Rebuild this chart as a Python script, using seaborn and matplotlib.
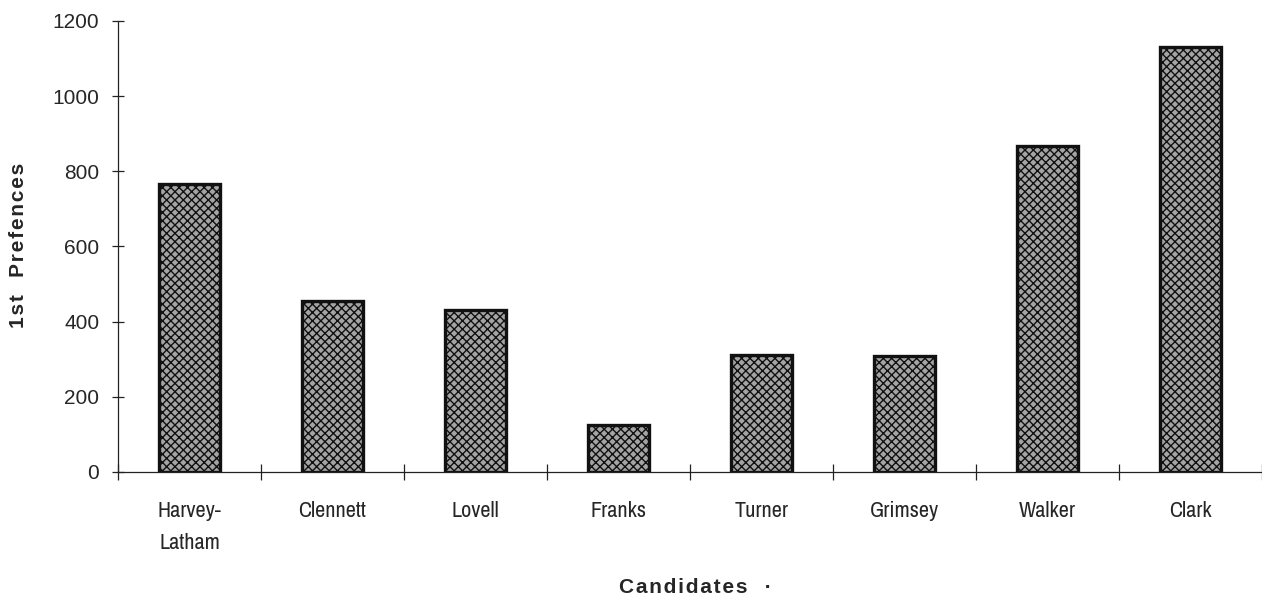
import seaborn as sns
import matplotlib.pyplot as plt
from matplotlib import font_manager as fm
import pandas as pd
import numpy as np

# Candidates and their first-preference votes
candidates = ["Harvey-\nLatham", "Clennett", "Lovell", "Franks",
              "Turner", "Grimsey", "Walker", "Clark"]
votes = [765, 455, 430, 125, 312, 307, 867, 1131]
y_ticks = [0, 200, 400, 600, 800, 1000, 1200]

df = pd.DataFrame({"candidate": candidates, "votes": votes})

# pick the first installed font out of a wish list
installed = {f.name for f in fm.fontManager.ttflist}
def pick(*names):
    return [n for n in names if n in installed][:1] + ["DejaVu Sans"]

arial = pick("Liberation Sans", "Arimo", "Roboto")
narrow = pick("Liberation Sans Narrow", "Arimo Narrow", "Archivo Narrow",
              "PT Sans Narrow", "Roboto Condensed", "Asap Condensed")

# letter-spaced axis titles (hair spaces between letters)
def spaced(text):
    return "\u200a".join(text)

sns.set_theme(style="white")
plt.rcParams["font.family"] = arial
plt.rcParams["hatch.linewidth"] = 1.0

fig = plt.figure(figsize=(12.62, 5.98), dpi=100)
ax = fig.add_axes([0.0935, 0.211, 0.9065, 0.754])

sns.barplot(data=df, x="candidate", y="votes", color="#a4a4a4",
            width=0.42, saturation=1, ax=ax)

# dotted shading and dark outlines, like the printed chart
for bar in ax.patches:
    bar.set_hatch("xxxx")
    bar.set_edgecolor("#111111")
    bar.set_linewidth(2.4)

ax.set_xlim(-0.5, 7.5)
ax.set_ylim(0, 1200)
ax.set_yticks(y_ticks)
ax.tick_params(axis="y", left=True, direction="inout", length=9, width=0.9,
               labelsize=15, pad=9, color="#222222")

# category labels sit under the bars; tick marks go between them
ax.set_xticks(range(len(candidates)))
ax.set_xticklabels(candidates, family=narrow, fontsize=16, linespacing=1.75)
ax.tick_params(axis="x", which="major", bottom=False, pad=15)
ax.set_xticks(np.arange(-0.5, len(candidates), 1), minor=True)
ax.tick_params(axis="x", which="minor", bottom=True, direction="inout",
               length=12, width=0.9, color="#222222")

sns.despine(ax=ax)
for side in ["left", "bottom"]:
    ax.spines[side].set_linewidth(0.9)
    ax.spines[side].set_color("#222222")

ax.set_ylabel(spaced("1st") + "   " + spaced("Prefences"),
              fontsize=15, fontweight="bold")
ax.yaxis.set_label_coords(-0.079, 0.503)
ax.set_xlabel(spaced("Candidates") + "   \u00b7", fontsize=15, fontweight="bold")
ax.xaxis.set_label_coords(0.505, -0.236)

fig.savefig("out.png", dpi=100)
